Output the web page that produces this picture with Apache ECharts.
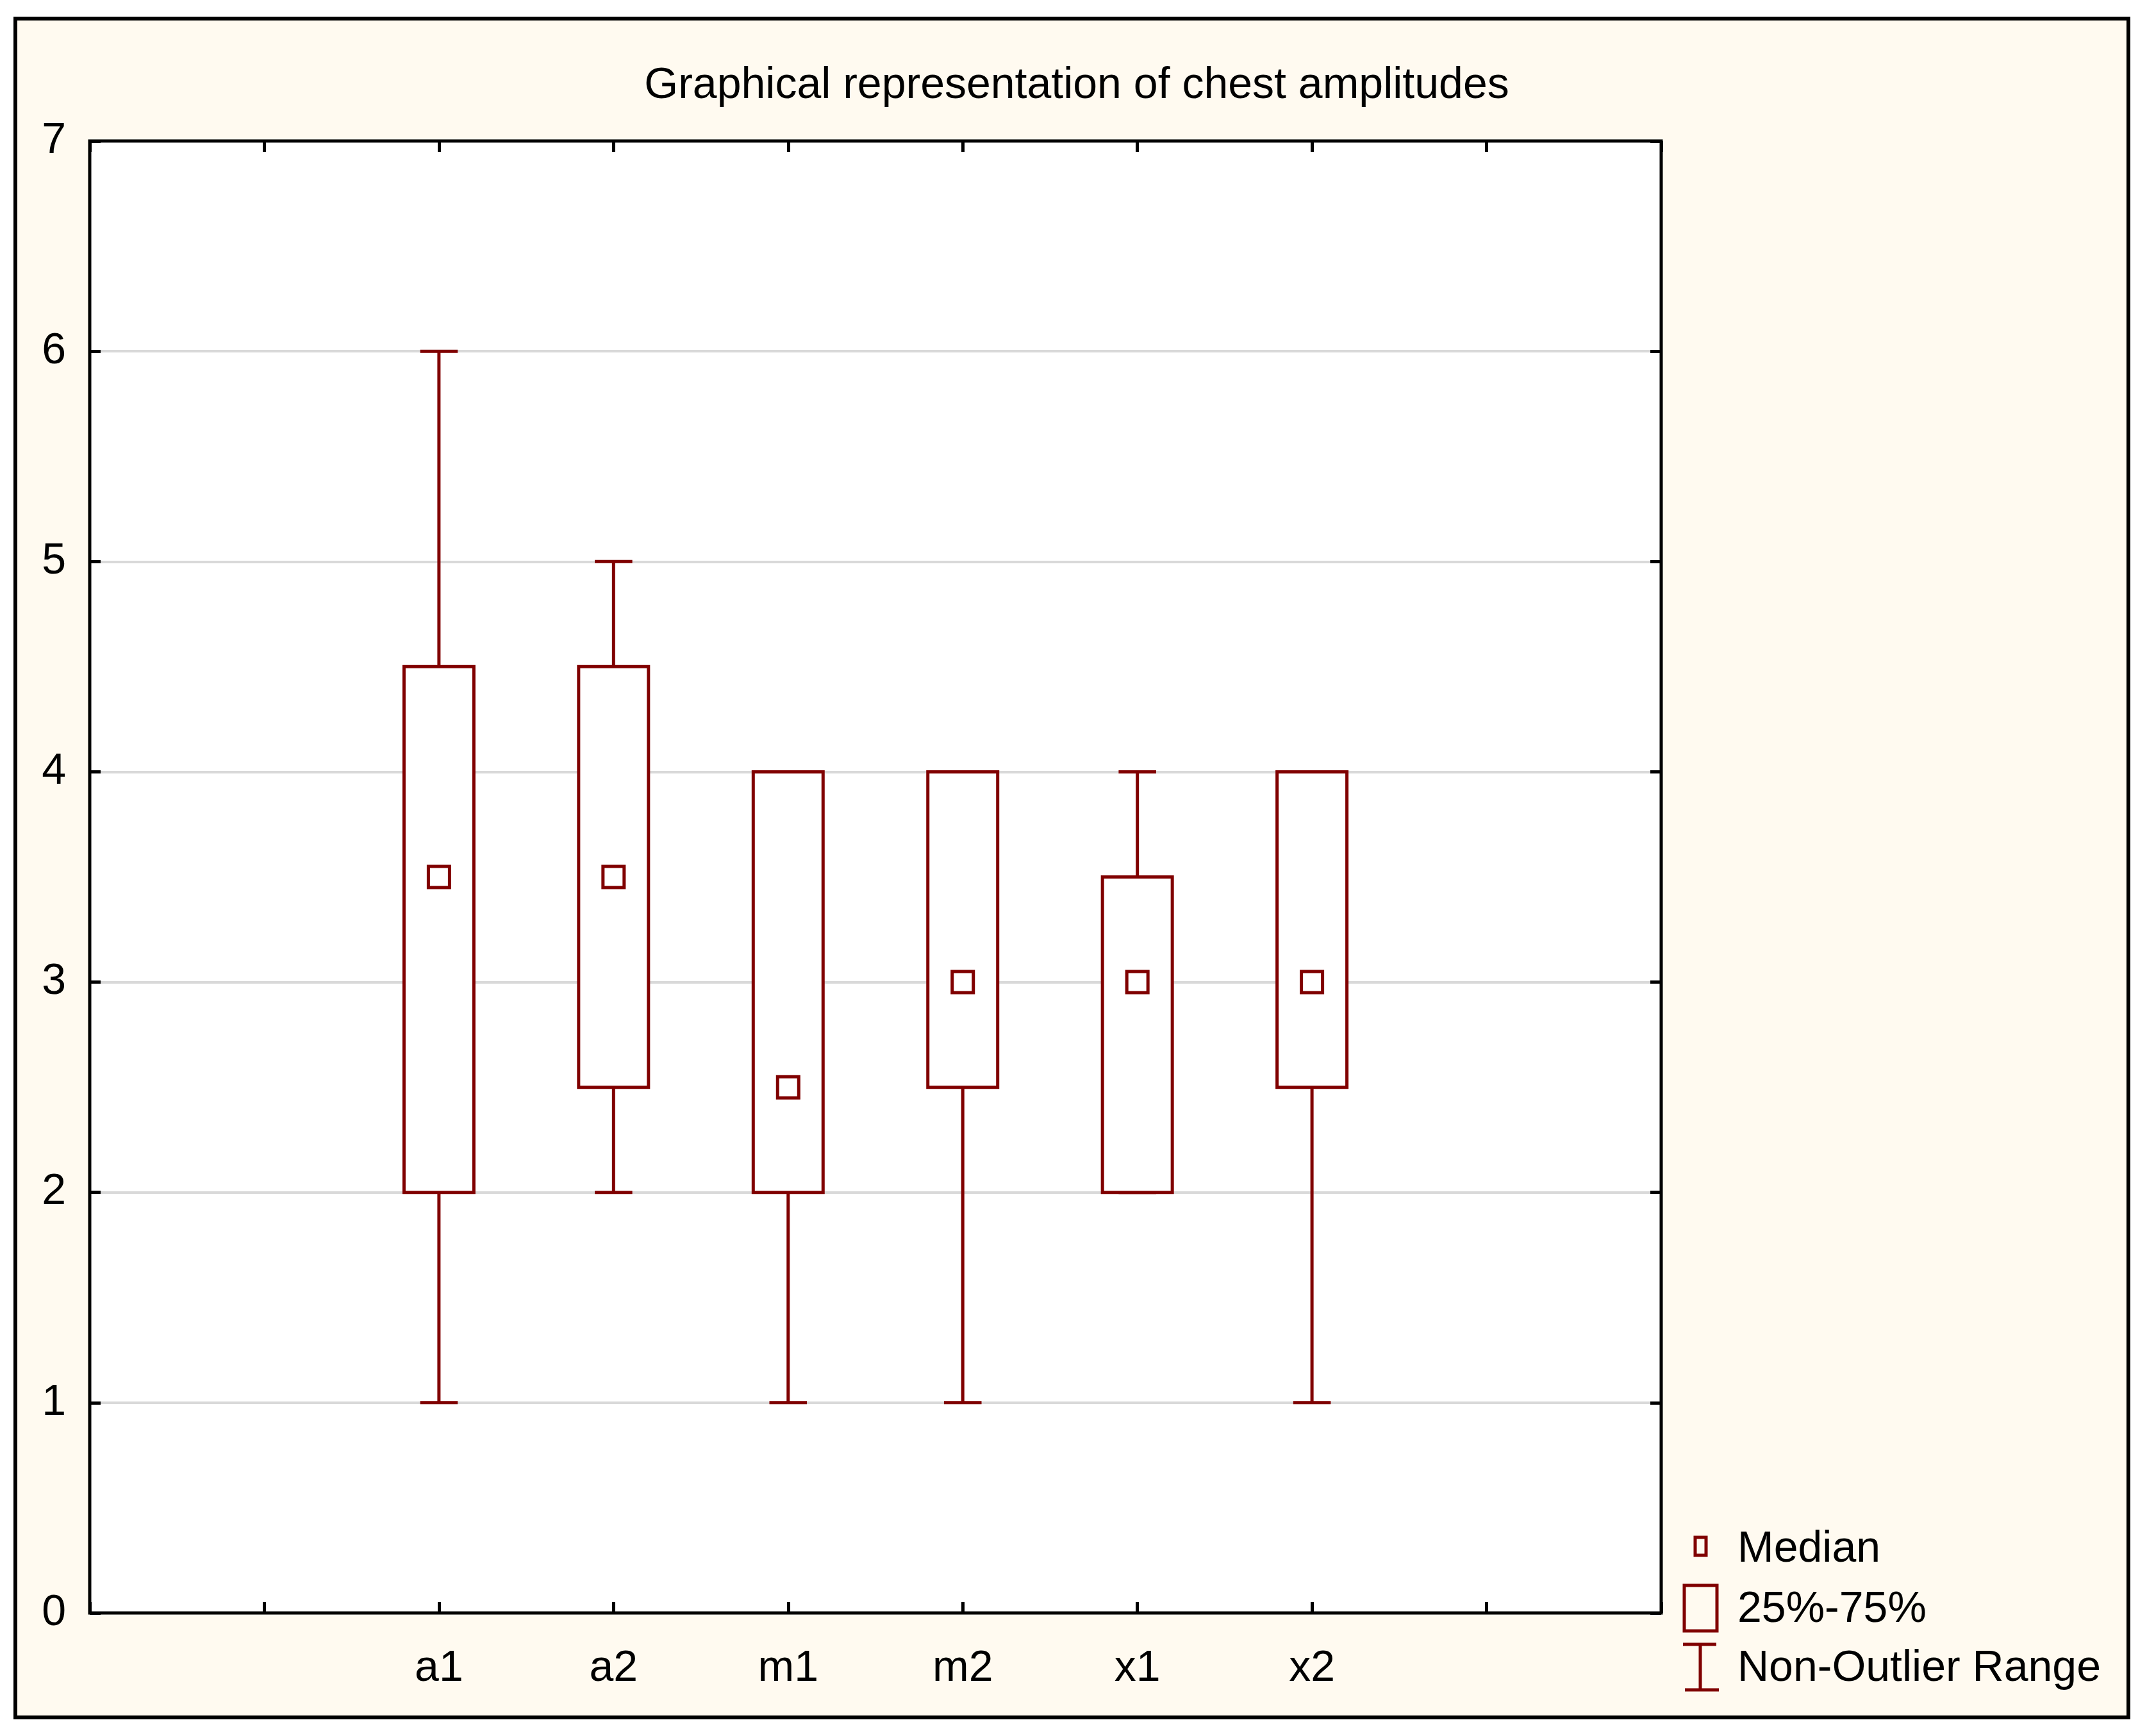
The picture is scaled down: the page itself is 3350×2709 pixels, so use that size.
<!DOCTYPE html>
<html><head><meta charset="utf-8">
<script src="https://cdn.jsdelivr.net/npm/echarts@6/dist/echarts.min.js"></script>
<style>html,body{margin:0;padding:0;background:#fff}#c{width:3350px;height:2709px}</style>
</head><body><div id="c"></div>
<script>
// ---- data ----
const categories   = ['a1', 'a2', 'm1', 'm2', 'x1', 'x2'];
const minValues    = [1,   2,   1,   1,   2,   1];
const q1Values     = [2,   2.5, 2,   2.5, 2,   2.5];
const medianValues = [3.5, 3.5, 2.5, 3,   3,   3];
const q3Values     = [4.5, 4.5, 4,   4,   3.5, 4];
const maxValues    = [6,   5,   4,   4,   4,   4];
const yTicks       = [0, 1, 2, 3, 4, 5, 6, 7];
const legendLabels = ['Median', '25%-75%', 'Non-Outlier Range'];
const titleText    = 'Graphical representation of chest amplitudes';
const PAD = 2; // empty slots on each side of the categories

// ---- style ----
const RED = '#800000';
const FONT = "'Liberation Sans', Arial, sans-serif";
const FS = 68;

const chart = echarts.init(document.getElementById('c'), null, {renderer: 'canvas'});

const seriesData = categories.map((c, i) => [i + PAD, minValues[i], q1Values[i], medianValues[i], q3Values[i], maxValues[i]]);
const xMax = categories.length + 2 * PAD - 1;

function renderItem(params, api) {
  const x = api.value(0);
  const pMin = api.coord([x, api.value(1)]);
  const pQ1  = api.coord([x, api.value(2)]);
  const pMed = api.coord([x, api.value(3)]);
  const pQ3  = api.coord([x, api.value(4)]);
  const pMax = api.coord([x, api.value(5)]);
  const unit = api.size([1, 0])[0];
  const bw = unit * 0.4, cw = unit * 0.215;
  const cx = pMed[0];
  const st = {stroke: RED, lineWidth: 5, fill: null};
  const ms = 33;
  return {
    type: 'group',
    children: [
      {type: 'line', shape: {x1: cx, y1: pMin[1], x2: cx, y2: pQ1[1]}, style: st},
      {type: 'line', shape: {x1: cx, y1: pQ3[1], x2: cx, y2: pMax[1]}, style: st},
      {type: 'line', shape: {x1: cx - cw / 2, y1: pMin[1], x2: cx + cw / 2, y2: pMin[1]}, style: st},
      {type: 'line', shape: {x1: cx - cw / 2, y1: pMax[1], x2: cx + cw / 2, y2: pMax[1]}, style: st},
      {type: 'rect', shape: {x: cx - bw / 2, y: pQ3[1], width: bw, height: pQ1[1] - pQ3[1]}, style: {stroke: RED, lineWidth: 5, fill: '#fff'}},
      {type: 'rect', shape: {x: cx - ms / 2, y: pMed[1] - ms / 2, width: ms, height: ms}, style: {stroke: RED, lineWidth: 5, fill: '#fff'}}
    ]
  };
}

const tickStyle = {show: true, inside: true, length: 17, lineStyle: {color: '#000', width: 5}};
const hiddenLine = {show: false, onZero: false};
const labelStyle = {color: '#000', fontSize: FS, fontFamily: FONT};

const option = {
  backgroundColor: '#fff',
  animation: false,
  title: {
    text: titleText, left: 1680, top: 100, textAlign: 'center', padding: 0,
    textStyle: {fontSize: FS, fontWeight: 'normal', color: '#000', fontFamily: FONT}
  },
  grid: {left: 140, top: 220, width: 2452, height: 2297, show: true, backgroundColor: '#fff', borderColor: '#000', borderWidth: 5, containLabel: false},
  xAxis: [
    {type: 'value', min: 0, max: xMax, interval: 1, position: 'bottom',
     axisLine: hiddenLine, axisTick: tickStyle, splitLine: {show: false},
     axisLabel: Object.assign({margin: 53, showMinLabel: true, showMaxLabel: true,
       formatter: v => categories[Math.round(v) - PAD] || ''}, labelStyle)},
    {type: 'value', min: 0, max: xMax, interval: 1, position: 'top',
     axisLine: hiddenLine, axisTick: tickStyle, splitLine: {show: false}, axisLabel: {show: false}}
  ],
  yAxis: [
    {type: 'value', min: yTicks[0], max: yTicks[yTicks.length - 1], interval: 1, position: 'left',
     axisLine: hiddenLine, axisTick: tickStyle,
     splitLine: {show: true, showMinLine: false, showMaxLine: false, lineStyle: {color: '#D9D9D9', width: 4}},
     axisLabel: Object.assign({margin: 37, formatter: v => String(v)}, labelStyle)},
    {type: 'value', min: yTicks[0], max: yTicks[yTicks.length - 1], interval: 1, position: 'right',
     axisLine: hiddenLine, axisTick: tickStyle, splitLine: {show: false}, axisLabel: {show: false}}
  ],
  series: [{
    type: 'custom', name: 'box', renderItem: renderItem, data: seriesData,
    encode: {x: 0, y: [1, 2, 3, 4, 5]}, z: 5
  }],
  graphic: [
    {type: 'rect', z: -100, silent: true, shape: {x: 24, y: 29, width: 3297, height: 2651},
     style: {fill: '#FFFAF0', stroke: '#000', lineWidth: 6}},
    // legend icons
    {type: 'rect', shape: {x: 2645, y: 2399, width: 17, height: 28}, style: {fill: null, stroke: RED, lineWidth: 5}},
    {type: 'rect', shape: {x: 2628, y: 2474, width: 51, height: 71}, style: {fill: null, stroke: RED, lineWidth: 5}},
    {type: 'line', shape: {x1: 2626, y1: 2566, x2: 2678, y2: 2566}, style: {stroke: RED, lineWidth: 5}},
    {type: 'line', shape: {x1: 2653, y1: 2566, x2: 2653, y2: 2637}, style: {stroke: RED, lineWidth: 5}},
    {type: 'line', shape: {x1: 2629, y1: 2637, x2: 2682, y2: 2637}, style: {stroke: RED, lineWidth: 5}},
    // legend texts
    {type: 'text', x: 2711, y: 2418, style: {text: legendLabels[0], fill: '#000', font: FS + 'px ' + FONT, verticalAlign: 'middle', align: 'left'}},
    {type: 'text', x: 2711, y: 2512, style: {text: legendLabels[1], fill: '#000', font: FS + 'px ' + FONT, verticalAlign: 'middle', align: 'left'}},
    {type: 'text', x: 2711, y: 2604, style: {text: legendLabels[2], fill: '#000', font: FS + 'px ' + FONT, verticalAlign: 'middle', align: 'left'}}
  ]
};
chart.setOption(option);
</script></body></html>
